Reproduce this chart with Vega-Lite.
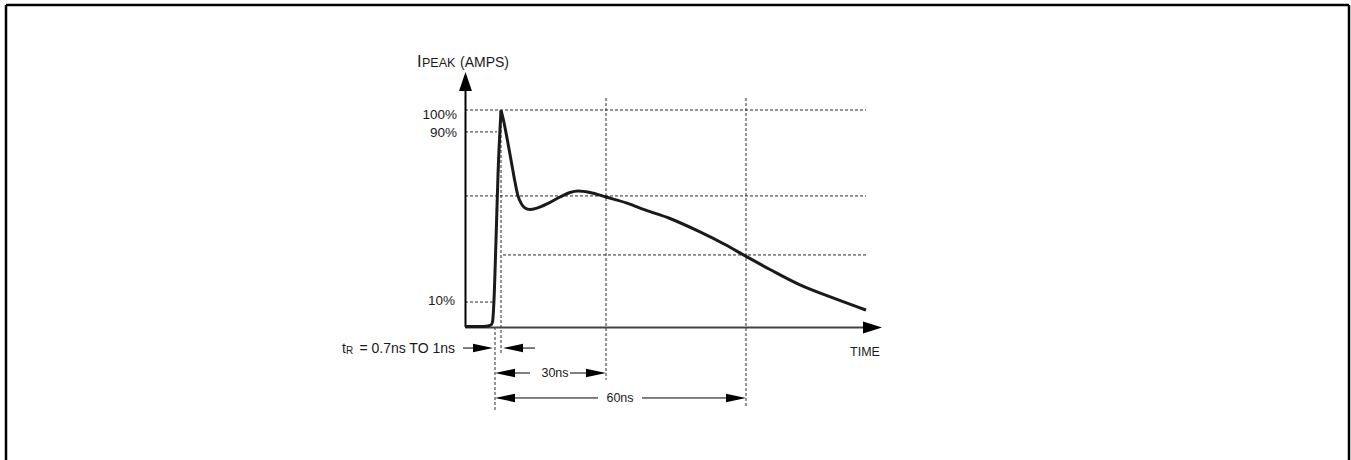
{
  "$schema": "https://vega.github.io/schema/vega-lite/v6.json",
  "width": 1351,
  "height": 460,
  "padding": 0,
  "autosize": {"type": "none"},
  "background": "white",
  "config": {"view": {"stroke": null}},
  "datasets": {
    "curve": [
      {"s": "rise", "t": 0, "i": 0.2}, {"s": "rise", "t": 15, "i": 0.2}, {"s": "rise", "t": 23, "i": 0.5}, {"s": "rise", "t": 26, "i": 0.9},
      {"s": "rise", "t": 27.5, "i": 2.3}, {"s": "rise", "t": 29, "i": 12.4}, {"s": "rise", "t": 31, "i": 40.1}, {"s": "rise", "t": 33, "i": 70.0},
      {"s": "rise", "t": 36, "i": 99.8},
      {"s": "decay", "t": 36, "i": 99.8}, {"s": "decay", "t": 38, "i": 96.3}, {"s": "decay", "t": 42, "i": 87.1},
      {"s": "decay", "t": 46, "i": 77.0}, {"s": "decay", "t": 50, "i": 66.8}, {"s": "decay", "t": 53, "i": 60.4}, {"s": "decay", "t": 56, "i": 57.1},
      {"s": "decay", "t": 60, "i": 54.8}, {"s": "decay", "t": 65, "i": 54.1}, {"s": "decay", "t": 72, "i": 54.8}, {"s": "decay", "t": 82, "i": 56.7},
      {"s": "decay", "t": 95, "i": 59.9}, {"s": "decay", "t": 105, "i": 62.0}, {"s": "decay", "t": 113, "i": 62.7}, {"s": "decay", "t": 125, "i": 62.0},
      {"s": "decay", "t": 141, "i": 59.9}, {"s": "decay", "t": 162, "i": 57.1}, {"s": "decay", "t": 180, "i": 54.0}, {"s": "decay", "t": 205, "i": 50.0},
      {"s": "decay", "t": 235, "i": 43.8}, {"s": "decay", "t": 260, "i": 38.0}, {"s": "decay", "t": 282, "i": 32.3}, {"s": "decay", "t": 305, "i": 26.5},
      {"s": "decay", "t": 335, "i": 19.4}, {"s": "decay", "t": 368, "i": 13.4}, {"s": "decay", "t": 401, "i": 7.8}
    ],
    "dashed": [
      {"t": 0, "t2": 401, "i": 100, "i2": 100},
      {"t": 0, "t2": 32, "i": 89.9, "i2": 89.9},
      {"t": 0, "t2": 401, "i": 60.4, "i2": 60.4},
      {"t": 38, "t2": 401, "i": 33.2, "i2": 33.2},
      {"t": 0, "t2": 28, "i": 11.5, "i2": 11.5},
      {"t": 36, "t2": 36, "i": 100, "i2": -12.9},
      {"t": 30, "t2": 30, "i": 0, "i2": -38.2},
      {"t": 141, "t2": 141, "i": 105.5, "i2": -24.4},
      {"t": 281, "t2": 281, "i": 105.5, "i2": -37.3}
    ],
    "lines": [
      {"g": "border", "t": -459, "t2": -459, "i": 148.4, "i2": -62},
      {"g": "border", "t": -459, "t2": 884, "i": 148.4, "i2": 148.4},
      {"g": "border", "t": 884, "t2": 884, "i": 148.4, "i2": -62},
      {"g": "yaxis", "t": 0.5, "t2": 0.5, "i": 0, "i2": 110},
      {"g": "xaxis", "t": 0, "t2": 401, "i": -0.2, "i2": -0.2},
      {"g": "dim", "t": -2, "t2": 19, "i": -9.7, "i2": -9.7},
      {"g": "dim", "t": 47, "t2": 70, "i": -9.7, "i2": -9.7},
      {"g": "dim", "t": 39, "t2": 65, "i": -21.2, "i2": -21.2},
      {"g": "dim", "t": 105, "t2": 132, "i": -21.2, "i2": -21.2},
      {"g": "dim", "t": 39, "t2": 133, "i": -32.7, "i2": -32.7},
      {"g": "dim", "t": 177, "t2": 272, "i": -32.7, "i2": -32.7}
    ],
    "arrows": [
      {"d": "up", "t": 0.5, "i": 113.1},
      {"d": "axisright", "t": 407.5, "i": -0.2},
      {"d": "right", "t": 18, "i": -9.7},
      {"d": "left", "t": 48, "i": -9.7},
      {"d": "left", "t": 40, "i": -21.2},
      {"d": "right", "t": 131, "i": -21.2},
      {"d": "left", "t": 40, "i": -32.7},
      {"d": "right", "t": 271, "i": -32.7}
    ],
    "labels": [
      {"k": "pct", "t": -8, "i": 97.7, "text": "100%"},
      {"k": "pct", "t": -8, "i": 89.2, "text": "90%"},
      {"k": "pct", "t": -10, "i": 12.2, "text": "10%"},
      {"k": "big", "t": -48, "i": 119.8, "text": "I"},
      {"k": "sub", "t": -43, "i": 119.8, "text": "PEAK"},
      {"k": "norm", "t": -5, "i": 119.8, "text": "(AMPS)"},
      {"k": "norm", "t": -123, "i": -12.0, "text": "t"},
      {"k": "subR", "t": -119, "i": -12.6, "text": "R"},
      {"k": "normR", "t": -10, "i": -12.0, "text": "= 0.7ns TO 1ns"},
      {"k": "ctr", "t": 400, "i": -11.5, "text": "TIME"},
      {"k": "ctr", "t": 90, "i": -21.2, "text": "30ns"},
      {"k": "ctr", "t": 155, "i": -32.7, "text": "60ns"}
    ]
  },
  "encoding": {
    "x": {"field": "t", "type": "quantitative", "scale": {"domain": [-465, 886], "nice": false, "zero": false}, "axis": null},
    "y": {"field": "i", "type": "quantitative", "scale": {"domain": [-61.29, 150.69], "nice": false, "zero": false}, "axis": null}
  },
  "layer": [
    {
      "data": {"name": "dashed"},
      "mark": {"type": "rule", "color": "#2a2a2a", "strokeWidth": 1, "strokeDash": [3, 2]},
      "encoding": {"x2": {"field": "t2"}, "y2": {"field": "i2"}}
    },
    {
      "data": {"name": "lines"},
      "transform": [{"filter": "datum.g === 'border'"}],
      "mark": {"type": "rule", "color": "#000000", "strokeWidth": 2.5},
      "encoding": {"x2": {"field": "t2"}, "y2": {"field": "i2"}}
    },
    {
      "data": {"name": "lines"},
      "transform": [{"filter": "datum.g === 'yaxis'"}],
      "mark": {"type": "rule", "color": "#000000", "strokeWidth": 2},
      "encoding": {"x2": {"field": "t2"}, "y2": {"field": "i2"}}
    },
    {
      "data": {"name": "lines"},
      "transform": [{"filter": "datum.g === 'xaxis'"}],
      "mark": {"type": "rule", "color": "#444444", "strokeWidth": 2},
      "encoding": {"x2": {"field": "t2"}, "y2": {"field": "i2"}}
    },
    {
      "data": {"name": "lines"},
      "transform": [{"filter": "datum.g === 'dim'"}],
      "mark": {"type": "rule", "color": "#000000", "strokeWidth": 1},
      "encoding": {"x2": {"field": "t2"}, "y2": {"field": "i2"}}
    },
    {
      "data": {"name": "curve"},
      "mark": {"type": "line", "color": "#1a1a1a", "strokeWidth": 3, "interpolate": "monotone", "strokeJoin": "miter"},
      "encoding": {"detail": {"field": "s"}}
    },
    {
      "data": {"name": "arrows"},
      "transform": [{"filter": "datum.d === 'up'"}],
      "mark": {"type": "point", "shape": "M0,-1L0.68,1L-0.68,1Z", "size": 361, "filled": true, "color": "#000000", "opacity": 1, "strokeWidth": 0}
    },
    {
      "data": {"name": "arrows"},
      "transform": [{"filter": "datum.d === 'axisright'"}],
      "mark": {"type": "point", "shape": "M-1,-0.63L1,0L-1,0.63Z", "size": 361, "filled": true, "color": "#000000", "opacity": 1, "strokeWidth": 0}
    },
    {
      "data": {"name": "arrows"},
      "transform": [{"filter": "datum.d === 'right'"}],
      "mark": {"type": "point", "shape": "M-1,-0.42L1,0L-1,0.42Z", "size": 400, "filled": true, "color": "#000000", "opacity": 1, "strokeWidth": 0}
    },
    {
      "data": {"name": "arrows"},
      "transform": [{"filter": "datum.d === 'left'"}],
      "mark": {"type": "point", "shape": "M1,-0.42L-1,0L1,0.42Z", "size": 400, "filled": true, "color": "#000000", "opacity": 1, "strokeWidth": 0}
    },
    {
      "data": {"name": "labels"},
      "transform": [{"filter": "datum.k === 'pct'"}],
      "mark": {"type": "text", "align": "right", "baseline": "middle", "font": "Liberation Sans", "fontSize": 13.5, "color": "#1a1a1a"},
      "encoding": {"text": {"field": "text"}}
    },
    {
      "data": {"name": "labels"},
      "transform": [{"filter": "datum.k === 'big'"}],
      "mark": {"type": "text", "align": "left", "baseline": "alphabetic", "font": "Liberation Sans", "fontSize": 16.5, "color": "#1a1a1a"},
      "encoding": {"text": {"field": "text"}}
    },
    {
      "data": {"name": "labels"},
      "transform": [{"filter": "datum.k === 'sub'"}],
      "mark": {"type": "text", "align": "left", "baseline": "alphabetic", "font": "Liberation Sans", "fontSize": 12.5, "color": "#1a1a1a"},
      "encoding": {"text": {"field": "text"}}
    },
    {
      "data": {"name": "labels"},
      "transform": [{"filter": "datum.k === 'subR'"}],
      "mark": {"type": "text", "align": "left", "baseline": "alphabetic", "font": "Liberation Sans", "fontSize": 10, "color": "#1a1a1a"},
      "encoding": {"text": {"field": "text"}}
    },
    {
      "data": {"name": "labels"},
      "transform": [{"filter": "datum.k === 'norm'"}],
      "mark": {"type": "text", "align": "left", "baseline": "alphabetic", "font": "Liberation Sans", "fontSize": 14, "color": "#1a1a1a"},
      "encoding": {"text": {"field": "text"}}
    },
    {
      "data": {"name": "labels"},
      "transform": [{"filter": "datum.k === 'normR'"}],
      "mark": {"type": "text", "align": "right", "baseline": "alphabetic", "font": "Liberation Sans", "fontSize": 14, "color": "#1a1a1a"},
      "encoding": {"text": {"field": "text"}}
    },
    {
      "data": {"name": "labels"},
      "transform": [{"filter": "datum.k === 'ctr'"}],
      "mark": {"type": "text", "align": "center", "baseline": "middle", "font": "Liberation Sans", "fontSize": 12.5, "color": "#1a1a1a"},
      "encoding": {"text": {"field": "text"}}
    }
  ]
}
